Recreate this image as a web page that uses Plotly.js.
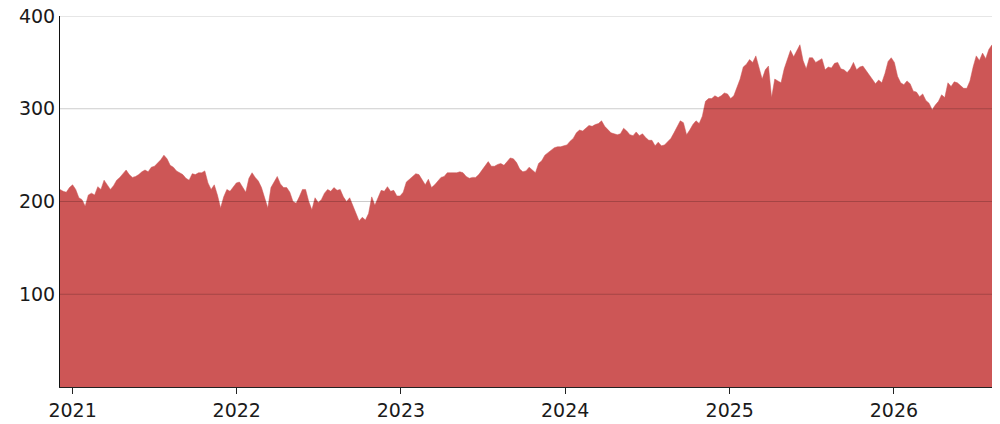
<!DOCTYPE html>
<html>
<head>
<meta charset="utf-8">
<script src="https://cdn.plot.ly/plotly-3.0.1.min.js"></script>
<style>
  html, body { margin: 0; padding: 0; background: #fff; }
  #chart { width: 1000px; height: 424px; }
</style>
</head>
<body>
<div id="chart"></div>
<script>
// weekly closes, first week starts on this date
const startDate = '2020-12-04'

const w2020 = [213, 211, 210, 215]

const w2021 = [218, 213, 204, 202, 195, 207, 209, 207, 216, 213,
  223, 218, 213, 217, 223, 226, 230, 234, 229, 226,
  227, 229, 232, 234, 232, 237, 238, 241, 245, 250,
  246, 239, 237, 233, 231, 229, 225, 223, 230, 229,
  231, 231, 233, 220, 213, 218, 207, 193, 205, 213,
  211, 216, 220]

const w2022 = [221, 215, 210, 225, 231, 226, 222, 215, 203, 193,
  215, 221, 227, 219, 215, 215, 210, 200, 198, 205,
  213, 213, 200, 191, 204, 199, 202, 209, 213, 211,
  215, 212, 213, 205, 200, 204, 195, 186, 179, 183,
  180, 187, 205, 196, 205, 212, 211, 216, 211, 212,
  206, 206]

const w2023 = [210, 221, 224, 227, 230, 229, 224, 218, 224, 215,
  218, 222, 226, 227, 231, 231, 231, 231, 232, 231,
  227, 225, 226, 226, 229, 234, 239, 243, 238, 238,
  240, 241, 239, 243, 247, 246, 242, 235, 232, 233,
  237, 234, 231, 241, 244, 250, 253, 256, 258, 259,
  259, 260]

const w2024 = [261, 265, 268, 274, 277, 276, 279, 282, 281, 283,
  284, 287, 281, 277, 274, 273, 272, 273, 279, 276,
  272, 271, 275, 271, 273, 269, 266, 266, 260, 264,
  260, 261, 264, 268, 274, 281, 287, 285, 272, 277,
  283, 287, 284, 292, 308, 311, 311, 314, 312, 314,
  317, 316]

const w2025 = [311, 314, 323, 332, 345, 348, 353, 350, 357, 343,
  332, 342, 346, 312, 332, 330, 328, 343, 353, 363,
  356, 362, 369, 352, 343, 355, 355, 350, 352, 354,
  342, 345, 344, 349, 350, 343, 342, 339, 343, 350,
  342, 345, 346, 341, 337, 332, 327, 331, 328, 338,
  351, 355]

const w2026 = [350, 335, 328, 326, 330, 327, 319, 318, 313, 316,
  309, 306, 299, 304, 308, 315, 312, 328, 324, 329,
  328, 325, 322, 322, 330, 345, 357, 352, 360, 354,
  364, 369]

const yTicks = [100, 200, 300, 400]

const values = [].concat(w2020, w2021, w2022, w2023, w2024, w2025, w2026)

const dates = []
const t0 = new Date(startDate + 'T00:00:00Z')
for (let i = 0; i < values.length; i++) {
  const d = new Date(t0.getTime() + i * 7 * 86400000)
  dates.push(d.toISOString().slice(0, 10))
}

const trace = {
  x: dates,
  y: values,
  type: 'scatter',
  mode: 'lines',
  fill: 'tozeroy',
  fillcolor: '#cd5656',
  line: {color: '#cd5656', width: 0.5},
  hoverinfo: 'x+y'
}

// grid lines sit on top of the area, drawn see-through
const gridShapes = yTicks.map(v => ({
  type: 'line', xref: 'paper', yref: 'y',
  x0: 0, x1: 1, y0: v, y1: v,
  layer: 'above',
  line: {color: 'rgba(0,0,0,0.2)', width: 1}
}))

const layout = {
  width: 1000,
  height: 424,
  margin: {l: 60, r: 8, t: 16, b: 37},
  paper_bgcolor: '#fff',
  plot_bgcolor: '#fff',
  font: {family: 'DejaVu Sans, Verdana, sans-serif', size: 19, color: '#1a1a1a'},
  showlegend: false,
  shapes: gridShapes,
  xaxis: {
    type: 'date',
    showgrid: false,
    zeroline: false,
    showline: true,
    linecolor: '#222',
    linewidth: 1,
    ticks: 'outside',
    ticklen: 6,
    tickcolor: '#222',
    dtick: 'M12',
    tick0: '2021-01-01',
    tickformat: '%Y'
  },
  yaxis: {
    range: [0, 400],
    showgrid: false,
    zeroline: false,
    showline: true,
    linecolor: '#111',
    linewidth: 1,
    ticks: '',
    tickvals: yTicks,
    ticktext: yTicks.map(String)
  }
}

Plotly.newPlot('chart', [trace], layout, {displayModeBar: false, staticPlot: true})
</script>
</body>
</html>
